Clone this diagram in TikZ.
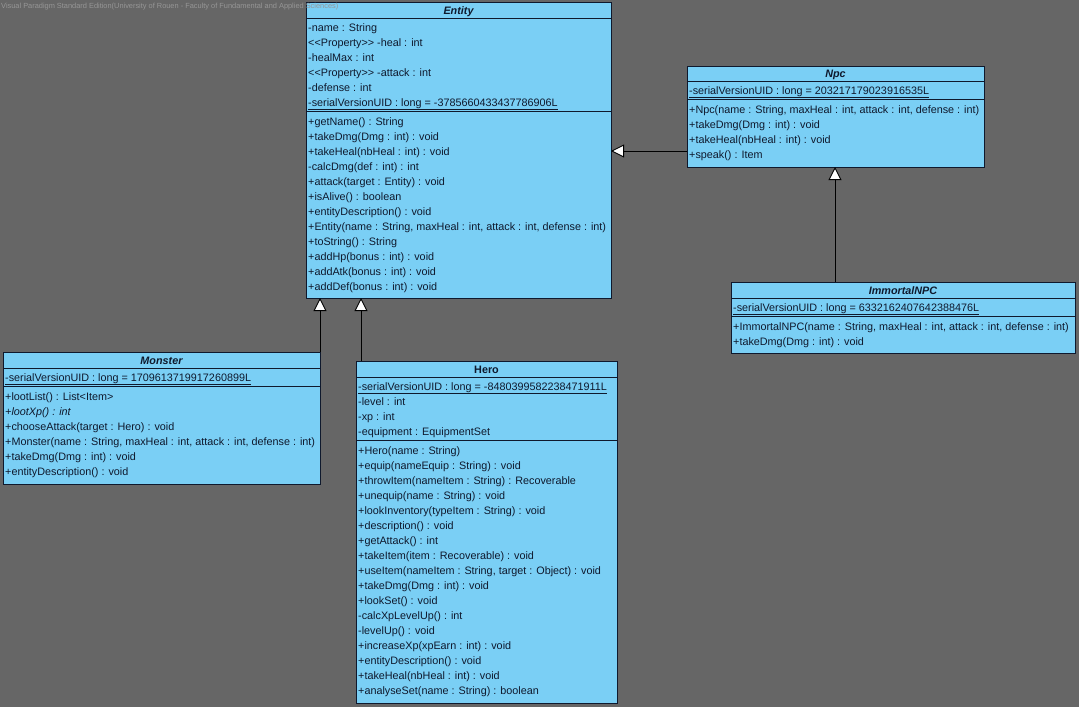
\documentclass[tikz,border=0pt]{standalone}
\usepackage{fontspec}
\setmainfont{Liberation Sans}[Ligatures=TeXOff]
\usetikzlibrary{arrows.meta}
\definecolor{bg}{RGB}{102,102,102}
\definecolor{cls}{RGB}{122,207,245}
\definecolor{ink}{RGB}{15,25,45}
\definecolor{wm}{RGB}{150,150,150}
\tikzset{
 classbox/.style={draw=ink, line width=0.9pt, fill=cls, anchor=north west, inner sep=0pt, outer sep=0pt},
 rowtxt/.style={anchor=base west, inner sep=0pt, text=ink, font=\fontsize{10.8}{12}\selectfont},
 ttl/.style={anchor=base, inner sep=0pt, text=ink, font=\fontsize{10.8}{12}\selectfont\bfseries\itshape},
 ttlplain/.style={anchor=base, inner sep=0pt, text=ink, font=\fontsize{10.8}{12}\selectfont\bfseries},
 sepline/.style={draw=ink, line width=0.9pt},
 inherit/.style={draw=black, line width=0.9pt, -{Triangle[fill=white, length=13pt, width=13pt]}},
}
\newcommand\umlrows[4]{%
  \foreach \t [count=\i] in {#4} \node[rowtxt] (#1\i) at (#2,{#3+4+15*(\i-1)}) {\t};}
\newcommand\stereo{\textless\kern0pt\textless\kern0pt Property\textgreater\kern0pt\textgreater}
\begin{document}
\begin{tikzpicture}[x=1pt,y=-1pt]
\useasboundingbox (0,0) rectangle (1079,707);
\fill[bg] (0,0) rectangle (1079,707);

% Entity
\node[classbox, minimum width=305pt, minimum height=296pt] (entity) at (306,2) {};
\node[ttl] (entityT) at (458.5,14) {Entity};
\draw[sepline] (306,18) -- (611,18);
\draw[sepline] (306,111) -- (611,111);
\umlrows{entA}{308}{27}{-name : String, {\stereo{} -heal : int}, -healMax : int, {\stereo{} -attack : int}, -defense : int, {\underline{-serialVersionUID : long = -3785660433437786906L}}}
\umlrows{entM}{308}{121}{+getName() : String, +takeDmg(Dmg : int) : void, +takeHeal(nbHeal : int) : void, -calcDmg(def : int) : int, +attack(target : Entity) : void, +isAlive() : boolean, +entityDescription() : void, {+Entity(name : String, maxHeal : int, attack : int, defense : int)}, +toString() : String, +addHp(bonus : int) : void, +addAtk(bonus : int) : void, +addDef(bonus : int) : void}

% Npc
\node[classbox, minimum width=297pt, minimum height=101pt] (npc) at (687,66) {};
\node[ttl] (npcT) at (835.5,77) {Npc};
\draw[sepline] (687,81) -- (984,81);
\draw[sepline] (687,99) -- (984,99);
\umlrows{npcA}{689}{90}{{\underline{-serialVersionUID : long = 203217179023916535L}}}
\umlrows{npcM}{689}{109}{{+Npc(name : String, maxHeal : int, attack : int, defense : int)}, +takeDmg(Dmg : int) : void, +takeHeal(nbHeal : int) : void, +speak() : Item}

% ImmortalNPC
\node[classbox, minimum width=344pt, minimum height=71pt] (imm) at (731,282) {};
\node[ttl] (immT) at (903,294) {ImmortalNPC};
\draw[sepline] (731,298) -- (1075,298);
\draw[sepline] (731,316) -- (1075,316);
\umlrows{immA}{733}{307}{{\underline{-serialVersionUID : long = 6332162407642388476L}}}
\umlrows{immM}{733}{326}{{+ImmortalNPC(name : String, maxHeal : int, attack : int, defense : int)}, +takeDmg(Dmg : int) : void}

% Monster
\node[classbox, minimum width=317pt, minimum height=132pt] (monster) at (3,352) {};
\node[ttl] (monT) at (161.5,364) {Monster};
\draw[sepline] (3,368) -- (320,368);
\draw[sepline] (3,386) -- (320,386);
\umlrows{monA}{5}{377}{{\underline{-serialVersionUID : long = 1709613719917260899L}}}
\umlrows{monM}{5}{396}{+lootList() : List\textless Item\textgreater, {\textit{+lootXp() : int}}, +chooseAttack(target : Hero) : void, {+Monster(name : String, maxHeal : int, attack : int, defense : int)}, +takeDmg(Dmg : int) : void, +entityDescription() : void}

% Hero
\node[classbox, minimum width=261pt, minimum height=342pt] (hero) at (356,361) {};
\node[ttlplain] (heroT) at (486.5,373) {Hero};
\draw[sepline] (356,377) -- (617,377);
\draw[sepline] (356,440) -- (617,440);
\umlrows{heroA}{358}{386}{{\underline{-serialVersionUID : long = -8480399582238471911L}}, -level : int, -xp : int, -equipment : EquipmentSet}
\umlrows{heroM}{358}{450}{+Hero(name : String), +equip(nameEquip : String) : void, +throwItem(nameItem : String) : Recoverable, +unequip(name : String) : void, +lookInventory(typeItem : String) : void, +description() : void, +getAttack() : int, +takeItem(item : Recoverable) : void, {+useItem(nameItem : String, target : Object) : void}, +takeDmg(Dmg : int) : void, +lookSet() : void, -calcXpLevelUp() : int, -levelUp() : void, +increaseXp(xpEarn : int) : void, +entityDescription() : void, +takeHeal(nbHeal : int) : void, +analyseSet(name : String) : boolean}

% Inheritance connectors
\coordinate (npcOut) at (687,151);
\draw[inherit] (npcOut) -- (entity.east |- npcOut);
\coordinate (immOut) at (835,282);
\draw[inherit] (immOut) -- (immOut |- npc.south);
\draw[inherit] (monster.north east) -- (monster.north east |- entity.south);
\coordinate (heroOut) at (361,361);
\draw[inherit] (heroOut) -- (heroOut |- entity.south);

% watermark
\node[anchor=west, inner sep=0pt, text=wm, font=\fontsize{7.4}{8}\selectfont] (wmark) at (1,7) {Visual Paradigm Standard Edition(University of Rouen - Faculty of Fundamental and Applied Sciences)};
\end{tikzpicture}
\end{document}
